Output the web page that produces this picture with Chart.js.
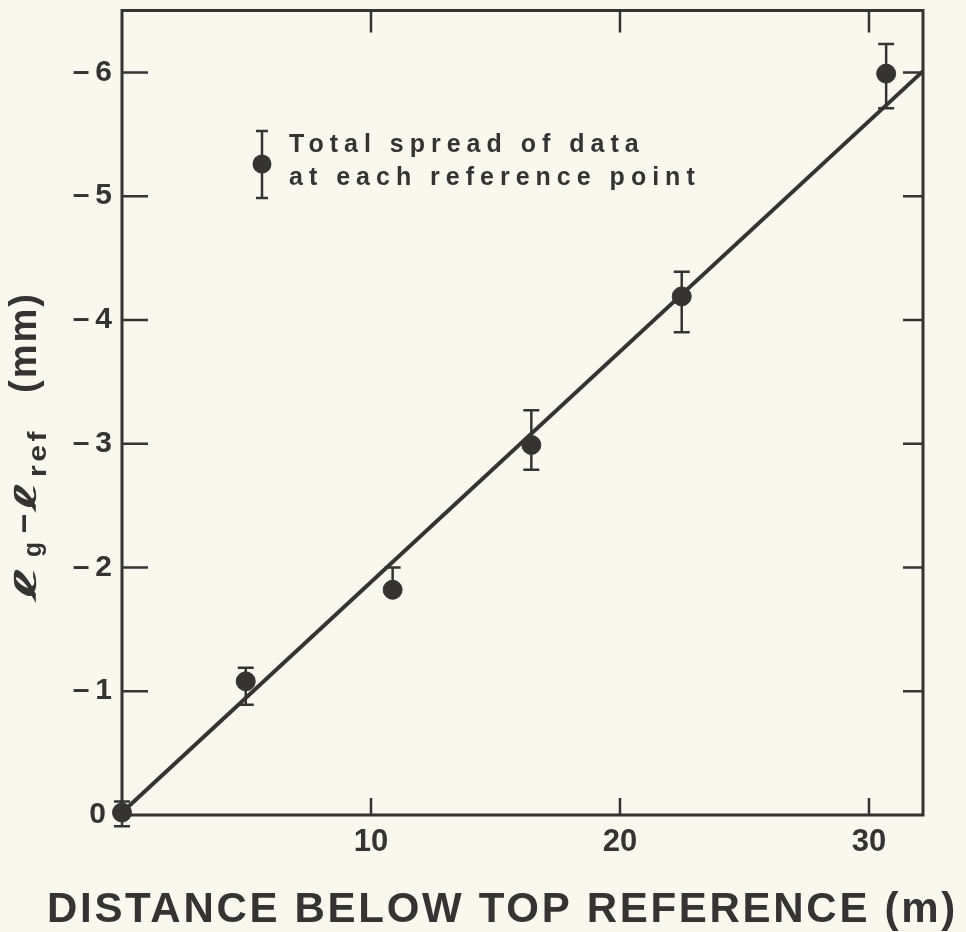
<!DOCTYPE html>
<html>
<head>
<meta charset="utf-8">
<script src="https://cdn.jsdelivr.net/npm/chart.js@4"></script>
<style>
  html, body { margin: 0; padding: 0; background: #f8f8ef; }
  #wrap { width: 966px; height: 932px; }
</style>
</head>
<body>
<div id="wrap"><canvas id="c" width="966" height="932"></canvas></div>
<script>
// ---- data ----
const distances  = [0, 4.97, 10.87, 16.44, 22.48, 30.69];      // m below top reference
const meanDiff   = [-0.02, -1.08, -1.82, -2.99, -4.19, -5.99];  // lg - lref (mm)
const spreadHigh = [-0.11, -1.19, -2.00, -3.27, -4.39, -6.23];  // extreme of spread (upward)
const spreadLow  = [0.09, -0.89, -1.82, -2.79, -3.90, -5.71];   // extreme of spread (downward)
const fitX = [0, 32.17];
const fitY = [-0.02, -6.01];
const xTicks = [10, 20, 30];
const yTicks = [0, -1, -2, -3, -4, -5, -6];
const xTitle = 'DISTANCE BELOW TOP REFERENCE (m)';
const legendLines = ['Total spread of data', 'at each reference point'];

const INK = '#363333';
const BG = '#f8f8ef';
const FONT = '"Liberation Sans", Arial, Helvetica, sans-serif';

const bgPlugin = {
  id: 'bg',
  beforeDraw(chart) {
    const ctx = chart.ctx;
    ctx.save();
    ctx.fillStyle = BG;
    ctx.fillRect(0, 0, chart.width, chart.height);
    ctx.restore();
  }
};

const errorBars = {
  id: 'errorBars',
  beforeDatasetsDraw(chart) {
    const ctx = chart.ctx, xs = chart.scales.x, ys = chart.scales.y;
    ctx.save();
    ctx.strokeStyle = INK;
    ctx.lineWidth = 2.5;
    const cap = 8;
    distances.forEach((d, i) => {
      const px = xs.getPixelForValue(d);
      const pHi = ys.getPixelForValue(spreadHigh[i]);
      const pLo = ys.getPixelForValue(spreadLow[i]);
      ctx.beginPath();
      ctx.moveTo(px, pHi); ctx.lineTo(px, pLo);
      ctx.moveTo(px - cap, pHi); ctx.lineTo(px + cap, pHi);
      ctx.moveTo(px - cap, pLo); ctx.lineTo(px + cap, pLo);
      ctx.stroke();
    });
    ctx.restore();
  }
};

const frame = {
  id: 'frame',
  afterDraw(chart) {
    const ctx = chart.ctx, a = chart.chartArea, xs = chart.scales.x, ys = chart.scales.y;
    ctx.save();
    ctx.strokeStyle = INK;
    ctx.fillStyle = INK;
    ctx.lineWidth = 3;
    ctx.beginPath();
    ctx.rect(a.left, a.top, a.right - a.left, a.bottom - a.top);
    ctx.stroke();
    ctx.lineWidth = 2.5;
    ctx.beginPath();
    xTicks.forEach(v => {
      const p = xs.getPixelForValue(v);
      ctx.moveTo(p, a.bottom); ctx.lineTo(p, a.bottom - 17);
      ctx.moveTo(p, a.top); ctx.lineTo(p, a.top + 22);
    });
    yTicks.forEach(v => {
      if (v === 0) return;
      const p = ys.getPixelForValue(v);
      ctx.moveTo(a.left, p); ctx.lineTo(a.left + 26, p);
      ctx.moveTo(a.right, p); ctx.lineTo(a.right - 20, p);
    });
    ctx.stroke();

    // x-axis title
    ctx.font = 'bold 42px ' + FONT;
    ctx.letterSpacing = '2.7px';
    ctx.textAlign = 'left';
    ctx.textBaseline = 'alphabetic';
    ctx.fillText(xTitle, 47, 922);

    // legend
    const lx = 262;
    ctx.lineWidth = 2.5;
    ctx.beginPath();
    ctx.moveTo(lx, 131); ctx.lineTo(lx, 198);
    ctx.moveTo(lx - 6, 131); ctx.lineTo(lx + 6, 131);
    ctx.moveTo(lx - 6, 198); ctx.lineTo(lx + 6, 198);
    ctx.stroke();
    ctx.beginPath();
    ctx.arc(lx, 164, 9.5, 0, Math.PI * 2);
    ctx.fill();
    ctx.font = 'bold 25px ' + FONT;
    ctx.letterSpacing = '6px';
    ctx.fillText(legendLines[0], 289, 152);
    ctx.fillText(legendLines[1], 289, 185);

    // y-axis title (rotated, with subscripts); offsets along the text run
    ctx.translate(36, 606);
    ctx.rotate(-Math.PI / 2);
    const put = (t, f, start, width, dy, spacing) => {
      ctx.save();
      ctx.font = f;
      ctx.letterSpacing = (spacing || 0) + 'px';
      const w = ctx.measureText(t).width;
      ctx.translate(start, dy);
      ctx.scale(width / w, 1);
      ctx.fillText(t, 0, 0);
      ctx.restore();
    };
    const SCRIPT = 'italic bold 30px "DejaVu Sans", ' + FONT;
    put('\u2113', SCRIPT, 4, 38, 0);
    put('g', 'bold 26px ' + FONT, 49, 15, 5);
    put('\u2013', 'bold 36px ' + FONT, 73, 19, -2);
    put('\u2113', SCRIPT, 94, 32, 0);
    put('ref', 'bold 26px ' + FONT, 129, 49, 10, 3);
    put('(mm)', 'bold 38px ' + FONT, 213, 101, 0, 2);
    ctx.restore();
  }
};

new Chart(document.getElementById('c'), {
  type: 'scatter',
  data: {
    datasets: [
      {
        type: 'line',
        data: fitX.map((x, i) => ({ x, y: fitY[i] })),
        borderColor: INK,
        borderWidth: 4,
        pointRadius: 0,
        fill: false,
        order: 2
      },
      {
        data: distances.map((x, i) => ({ x, y: meanDiff[i] })),
        backgroundColor: INK,
        borderColor: INK,
        pointRadius: 9.5,
        pointHoverRadius: 9.5,
        clip: false,
        order: 1
      }
    ]
  },
  options: {
    responsive: false,
    animation: false,
    events: [],
    layout: { padding: { top: 10, right: 43, left: 0, bottom: 0 } },
    plugins: { legend: { display: false }, tooltip: { enabled: false } },
    scales: {
      x: {
        type: 'linear',
        min: 0, max: 32.17,
        grid: { display: false, drawTicks: false },
        border: { display: false },
        afterFit(s) { s.height = 117; s.paddingLeft = 0; s.paddingRight = 0; },
        afterBuildTicks(s) { s.ticks = xTicks.map(v => ({ value: v })); },
        ticks: {
          color: INK,
          padding: 9,
          font: { family: FONT, size: 31, weight: 'bold' },
          callback: v => String(v)
        }
      },
      y: {
        type: 'linear',
        reverse: true,
        min: -6.5, max: 0,
        grid: { display: false, drawTicks: false },
        border: { display: false },
        afterFit(s) { s.width = 122; s.paddingTop = 0; s.paddingBottom = 0; },
        afterBuildTicks(s) { s.ticks = yTicks.map(v => ({ value: v })); },
        ticks: {
          color: INK,
          padding: 10,
          font: { family: FONT, size: 30, weight: 'bold' },
          callback: v => v === 0 ? '0\u2009' : '\u2013\u2009' + Math.abs(v)
        }
      }
    }
  },
  plugins: [bgPlugin, errorBars, frame]
});
</script>
</body>
</html>
